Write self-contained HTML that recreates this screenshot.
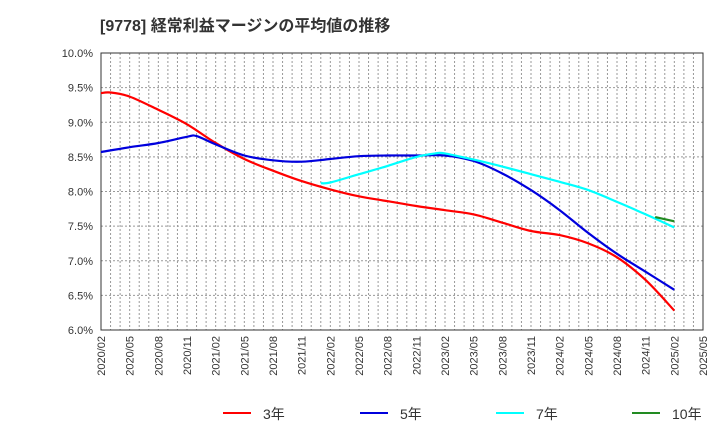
<!DOCTYPE html>
<html><head><meta charset="utf-8"><style>
body{margin:0;background:#fff;font-family:"Liberation Sans","Noto Sans CJK JP",sans-serif;}
</style></head><body>
<svg width="720" height="440" xmlns="http://www.w3.org/2000/svg">
<text x="100" y="31" font-size="16" font-weight="bold" fill="#333" font-family="Liberation Sans, Noto Sans CJK JP, sans-serif">[9778]  経常利益マージンの平均値の推移</text>
<g id="grid"></g><g id="axes"></g><g id="series"></g><g id="legend"></g>
</svg>
<script>
const yTicks=[6.0,6.5,7.0,7.5,8.0,8.5,9.0,9.5,10.0];
const xLabels=["2020/02","2020/05","2020/08","2020/11","2021/02","2021/05","2021/08","2021/11","2022/02","2022/05","2022/08","2022/11","2023/02","2023/05","2023/08","2023/11","2024/02","2024/05","2024/08","2024/11","2025/02","2025/05"];
// month index from 2020/02
const m3=[0,1,3,6,9,12,15,18,21,24,27,30,33,36,39,42,45,48,51,54,57,60];
const v3=[9.42,9.43,9.37,9.18,8.97,8.70,8.47,8.30,8.15,8.03,7.93,7.86,7.79,7.73,7.67,7.55,7.43,7.37,7.25,7.05,6.72,6.28];
const m5=[0,3,6,9,10,12,15,18,21,24,27,30,33,36,39,42,45,48,51,54,57,60];
const v5=[8.57,8.64,8.70,8.79,8.80,8.68,8.52,8.45,8.43,8.47,8.51,8.52,8.52,8.52,8.44,8.26,8.02,7.73,7.40,7.10,6.84,6.58];
const m7=[23,24,27,30,33,35,36,39,42,45,48,51,54,57,60];
const v7=[8.12,8.13,8.25,8.37,8.50,8.55,8.55,8.46,8.36,8.25,8.14,8.02,7.85,7.67,7.48];
const m10=[58,60];
const v10=[7.63,7.57];
const L=101,R=703,T=53,B=330,NM=63;
const X=m=>L+m*(R-L)/NM, Y=v=>B-(v-6)*(B-T)/4;
const ns="http://www.w3.org/2000/svg";
function mk(tag,attrs,parent){const e=document.createElementNS(ns,tag);for(const k in attrs)e.setAttribute(k,attrs[k]);document.getElementById(parent).appendChild(e);return e;}
for(let m=1;m<NM;m++){const e=mk('line',{x1:X(m),x2:X(m),y1:T,y2:B,stroke:'#999','stroke-dasharray':'2,2','stroke-width':1},'grid');

}
yTicks.forEach(v=>{const e=mk('line',{x1:L,x2:R,y1:Y(v),y2:Y(v),stroke:'#999','stroke-dasharray':'2,2','stroke-width':1},'grid');


const t=mk('text',{x:L-8,y:Y(v)+4,'text-anchor':'end','font-size':11,fill:'#333'},'axes');t.textContent=v.toFixed(1)+'%';

});
const fr=mk('rect',{x:L,y:T,width:R-L,height:B-T,fill:'none',stroke:'#333','stroke-width':1},'axes');


xLabels.forEach((s,i)=>{const x=X(i*3);const t=mk('text',{x:x+4,y:B+6,'text-anchor':'end','font-size':11,fill:'#333',transform:`rotate(-90 ${x+4} ${B+6})`},'axes');t.textContent=s;

});
function line(ms,vs,color,name){
const P=ms.map((m,i)=>[X(m),Y(vs[i])]);
let d='M'+P[0][0].toFixed(1)+','+P[0][1].toFixed(1);
for(let i=0;i<P.length-1;i++){const p0=P[Math.max(0,i-1)],p1=P[i],p2=P[i+1],p3=P[Math.min(P.length-1,i+2)];
const c1=[p1[0]+(p2[0]-p0[0])/6,p1[1]+(p2[1]-p0[1])/6],c2=[p2[0]-(p3[0]-p1[0])/6,p2[1]-(p3[1]-p1[1])/6];
d+=` C${c1[0].toFixed(1)},${c1[1].toFixed(1)} ${c2[0].toFixed(1)},${c2[1].toFixed(1)} ${p2[0].toFixed(1)},${p2[1].toFixed(1)}`;}
const e=mk('path',{d:d,fill:'none',stroke:color,'stroke-width':2.2,'stroke-linejoin':'round'},'series');

}
line(m3,v3,'#ff0000','series-3y');line(m5,v5,'#0000dd','series-5y');line(m7,v7,'#00ffff','series-7y');line(m10,v10,'#228b22','series-10y');
const leg=[['3年','#ff0000',223],['5年','#0000dd',360],['7年','#00ffff',496],['10年','#228b22',632]];
leg.forEach(([s,c,x])=>{const l=mk('line',{x1:x,x2:x+28,y1:413,y2:413,stroke:c,'stroke-width':2},'legend');


const t=mk('text',{x:x+40,y:419,'font-size':14,fill:'#333'},'legend');t.textContent=s;

});
</script>
</body></html>
